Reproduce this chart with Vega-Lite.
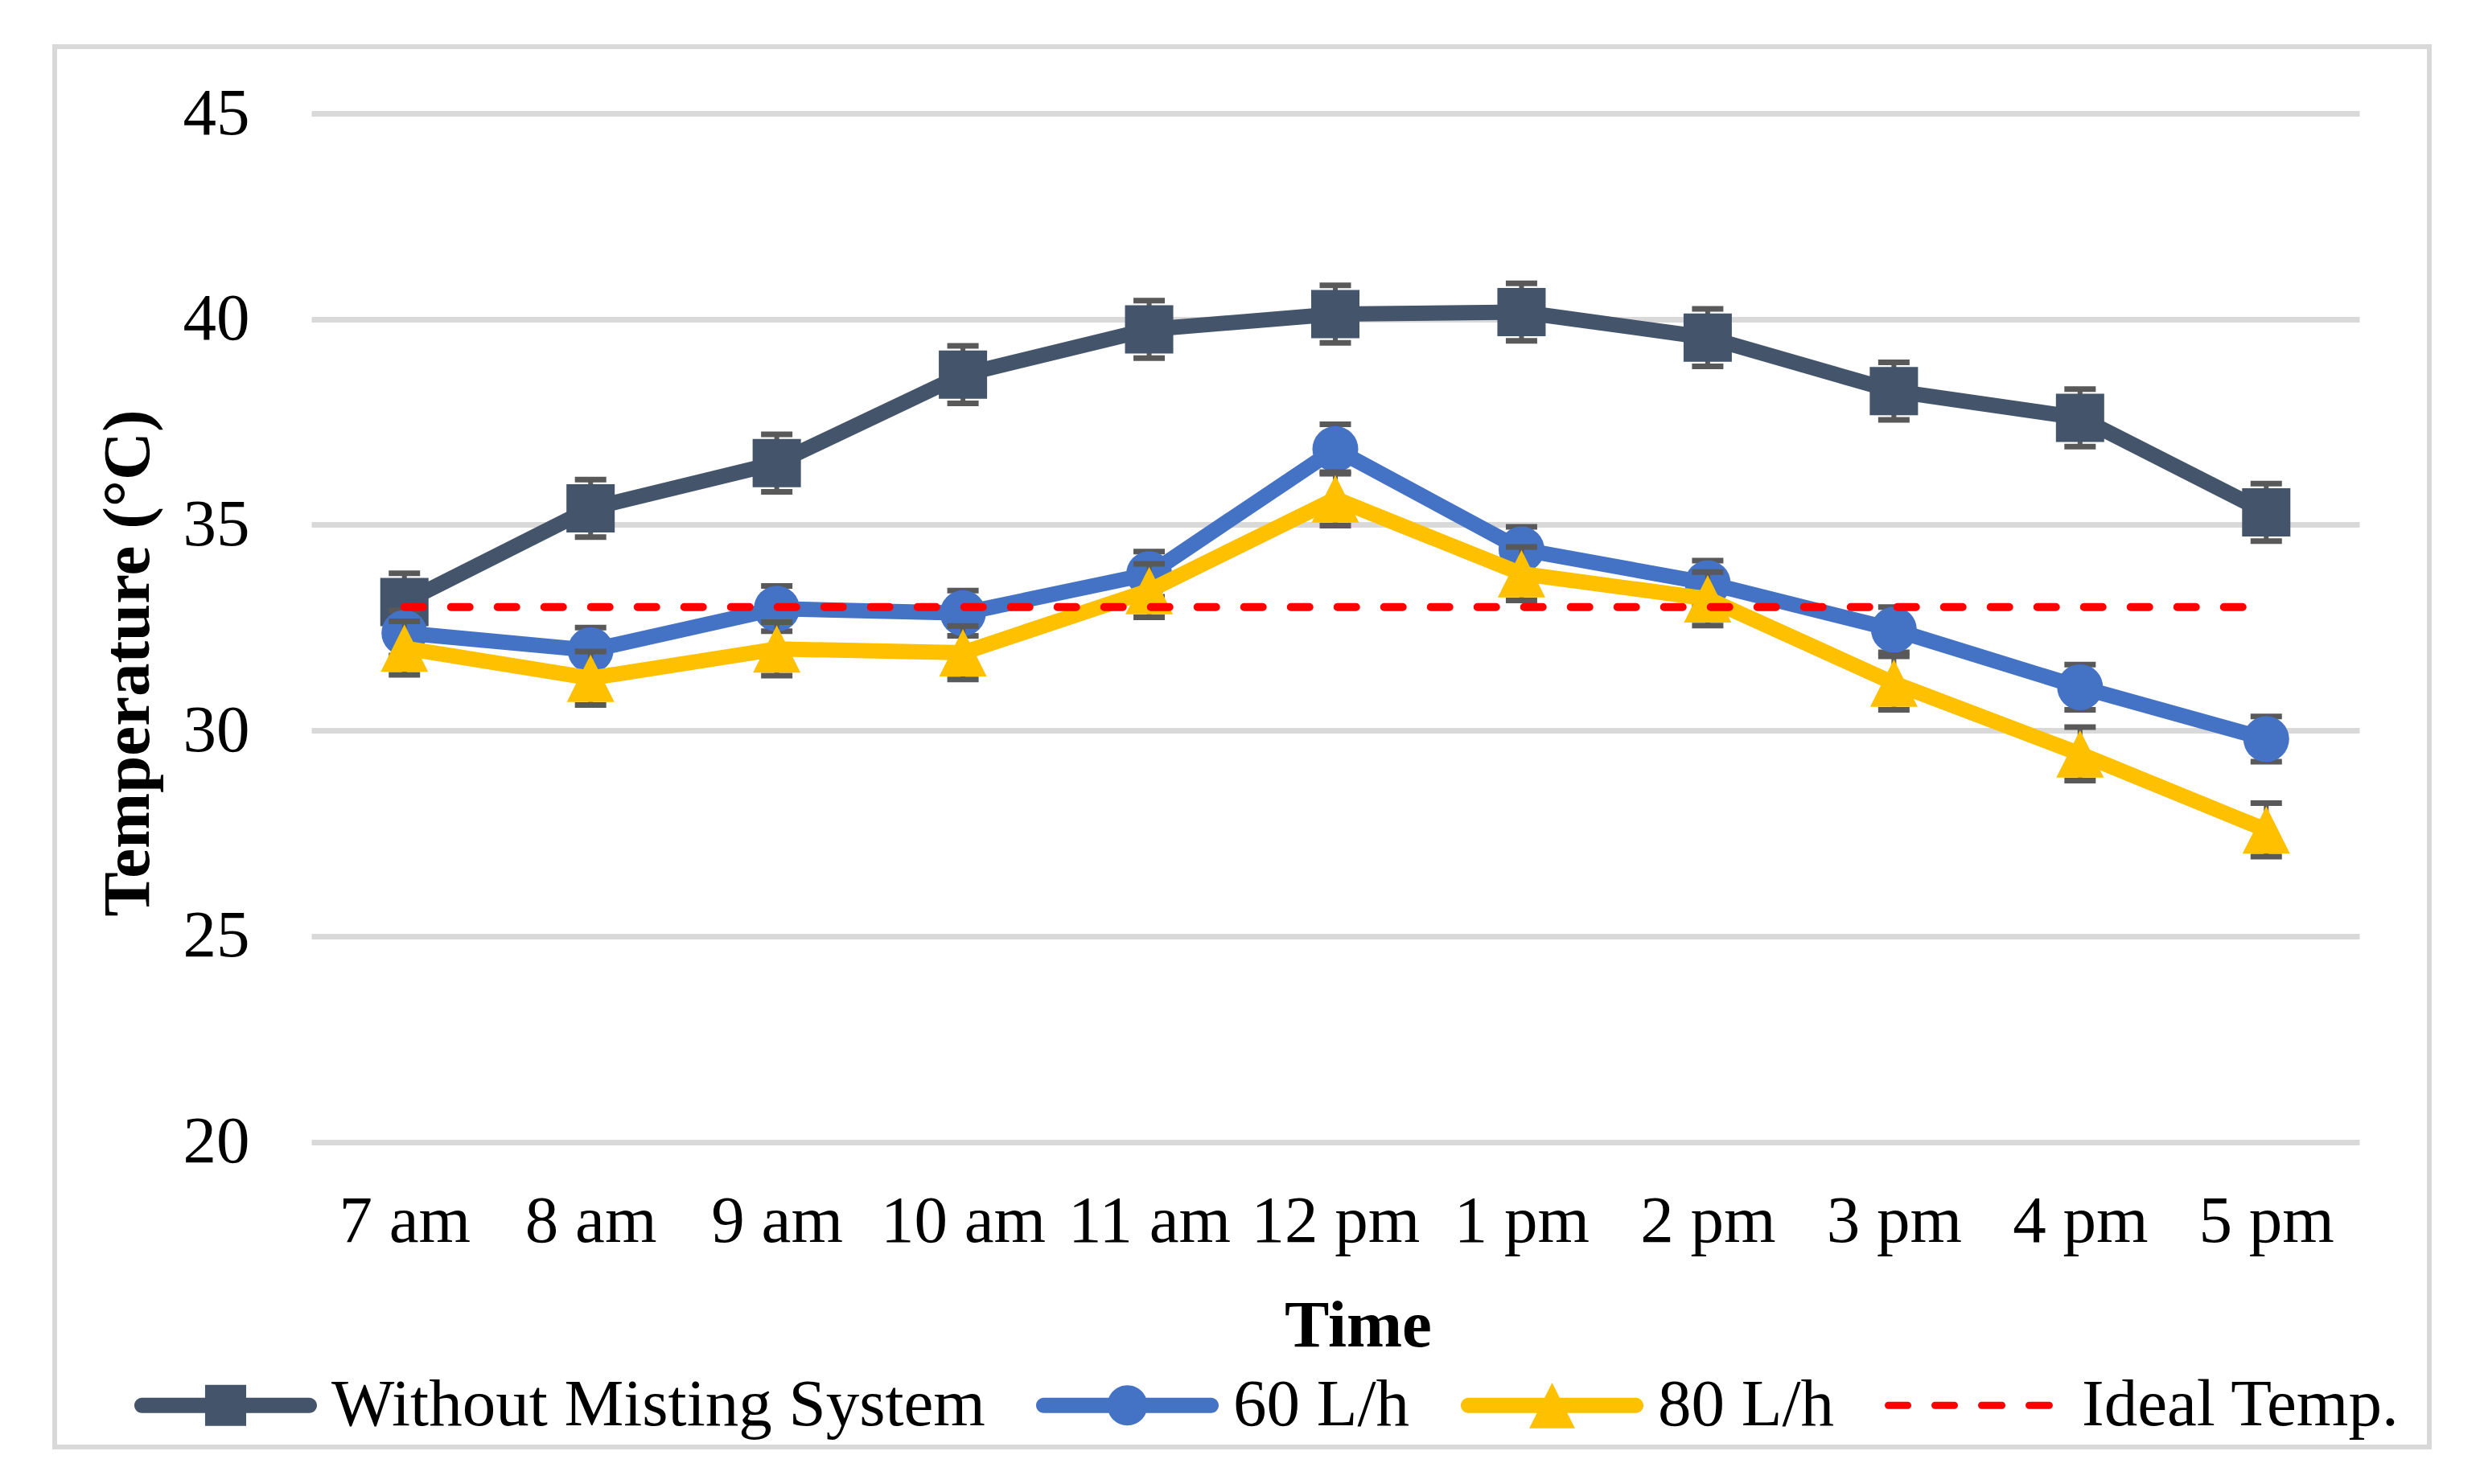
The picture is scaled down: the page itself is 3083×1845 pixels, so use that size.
{
  "$schema": "https://vega.github.io/schema/vega-lite/v6.json",
  "width": 2952,
  "height": 1741,
  "autosize": {"type": "none"},
  "padding": {"left": 68, "top": 58, "right": 63, "bottom": 46},
  "background": "white",
  "config": {
    "view": {"stroke": "#d9d9d9", "strokeWidth": 6, "fill": "white"},
    "font": "Liberation Serif",
    "axis": {
      "labelFont": "Liberation Serif",
      "labelFontSize": 83,
      "labelColor": "#000000",
      "labelLimit": 0,
      "titleFont": "Liberation Serif",
      "titleFontSize": 83,
      "titleFontWeight": "bold",
      "titleColor": "#000000"
    }
  },
  "data": {
    "values": [
      {"time": "7 am", "series": "Without Misting System", "value": 33.12, "lo": 32.42, "hi": 33.82},
      {"time": "8 am", "series": "Without Misting System", "value": 35.4, "lo": 34.7, "hi": 36.1},
      {"time": "9 am", "series": "Without Misting System", "value": 36.5, "lo": 35.8, "hi": 37.2},
      {"time": "10 am", "series": "Without Misting System", "value": 38.65, "lo": 37.95, "hi": 39.35},
      {"time": "11 am", "series": "Without Misting System", "value": 39.75, "lo": 39.05, "hi": 40.45},
      {"time": "12 pm", "series": "Without Misting System", "value": 40.12, "lo": 39.42, "hi": 40.82},
      {"time": "1 pm", "series": "Without Misting System", "value": 40.17, "lo": 39.47, "hi": 40.87},
      {"time": "2 pm", "series": "Without Misting System", "value": 39.55, "lo": 38.85, "hi": 40.25},
      {"time": "3 pm", "series": "Without Misting System", "value": 38.25, "lo": 37.55, "hi": 38.95},
      {"time": "4 pm", "series": "Without Misting System", "value": 37.6, "lo": 36.9, "hi": 38.3},
      {"time": "5 pm", "series": "Without Misting System", "value": 35.3, "lo": 34.6, "hi": 36.0},
      {"time": "7 am", "series": "60 L/h", "value": 32.37, "lo": 31.82, "hi": 32.92},
      {"time": "8 am", "series": "60 L/h", "value": 31.95, "lo": 31.4, "hi": 32.5},
      {"time": "9 am", "series": "60 L/h", "value": 32.96, "lo": 32.41, "hi": 33.51},
      {"time": "10 am", "series": "60 L/h", "value": 32.85, "lo": 32.3, "hi": 33.4},
      {"time": "11 am", "series": "60 L/h", "value": 33.8, "lo": 33.25, "hi": 34.35},
      {"time": "12 pm", "series": "60 L/h", "value": 36.84, "lo": 36.24, "hi": 37.44},
      {"time": "1 pm", "series": "60 L/h", "value": 34.4, "lo": 33.85, "hi": 34.95},
      {"time": "2 pm", "series": "60 L/h", "value": 33.58, "lo": 33.03, "hi": 34.13},
      {"time": "3 pm", "series": "60 L/h", "value": 32.45, "lo": 31.9, "hi": 33.0},
      {"time": "4 pm", "series": "60 L/h", "value": 31.05, "lo": 30.5, "hi": 31.6},
      {"time": "5 pm", "series": "60 L/h", "value": 29.79, "lo": 29.24, "hi": 30.34},
      {"time": "7 am", "series": "80 L/h", "value": 32.0, "lo": 31.35, "hi": 32.65},
      {"time": "8 am", "series": "80 L/h", "value": 31.27, "lo": 30.62, "hi": 31.92},
      {"time": "9 am", "series": "80 L/h", "value": 31.98, "lo": 31.33, "hi": 32.63},
      {"time": "10 am", "series": "80 L/h", "value": 31.89, "lo": 31.24, "hi": 32.54},
      {"time": "11 am", "series": "80 L/h", "value": 33.4, "lo": 32.75, "hi": 34.05},
      {"time": "12 pm", "series": "80 L/h", "value": 35.63, "lo": 34.98, "hi": 36.28},
      {"time": "1 pm", "series": "80 L/h", "value": 33.81, "lo": 33.16, "hi": 34.46},
      {"time": "2 pm", "series": "80 L/h", "value": 33.2, "lo": 32.55, "hi": 33.85},
      {"time": "3 pm", "series": "80 L/h", "value": 31.15, "lo": 30.5, "hi": 31.8},
      {"time": "4 pm", "series": "80 L/h", "value": 29.43, "lo": 28.78, "hi": 30.08},
      {"time": "5 pm", "series": "80 L/h", "value": 27.58, "lo": 26.93, "hi": 28.23},
      {"time": "7 am", "series": "Ideal Temp.", "value": 33},
      {"time": "8 am", "series": "Ideal Temp.", "value": 33},
      {"time": "9 am", "series": "Ideal Temp.", "value": 33},
      {"time": "10 am", "series": "Ideal Temp.", "value": 33},
      {"time": "11 am", "series": "Ideal Temp.", "value": 33},
      {"time": "12 pm", "series": "Ideal Temp.", "value": 33},
      {"time": "1 pm", "series": "Ideal Temp.", "value": 33},
      {"time": "2 pm", "series": "Ideal Temp.", "value": 33},
      {"time": "3 pm", "series": "Ideal Temp.", "value": 33},
      {"time": "4 pm", "series": "Ideal Temp.", "value": 33},
      {"time": "5 pm", "series": "Ideal Temp.", "value": 33}
    ]
  },
  "encoding": {
    "x": {
      "field": "time",
      "type": "ordinal",
      "title": "Time",
      "scale": {
        "type": "point",
        "domain": ["7 am", "8 am", "9 am", "10 am", "11 am", "12 pm", "1 pm", "2 pm", "3 pm", "4 pm", "5 pm"],
        "range": [319, 2865],
        "padding": 0.5
      },
      "axis": {
        "offset": -379.5,
        "domain": false,
        "ticks": false,
        "tickSize": 0,
        "grid": false,
        "labelAngle": 0,
        "labelPadding": 123.5,
        "labelBaseline": "alphabetic",
        "labelOverlap": false,
        "labelLimit": 0,
        "titleX": 1620,
        "titleY": 253.5,
        "titleAlign": "center",
        "titleBaseline": "alphabetic"
      }
    },
    "y": {
      "field": "value",
      "type": "quantitative",
      "title": "Temperature (°C)",
      "scale": {"domain": [20, 45], "range": [1361.5, 83], "nice": false, "zero": false},
      "axis": {
        "values": [20, 25, 30, 35, 40, 45],
        "offset": -319,
        "domain": false,
        "ticks": false,
        "tickSize": 0,
        "grid": true,
        "gridColor": "#d9d9d9",
        "gridWidth": 7,
        "labelPadding": 77,
        "labelBaseline": "middle",
        "labelAlign": "right",
        "titleAngle": -90,
        "titleX": -203,
        "titleY": 766,
        "titleAlign": "center",
        "titleBaseline": "alphabetic"
      }
    }
  },
  "layer": [
    {
      "transform": [{"filter": "datum.series === 'Without Misting System'"}],
      "layer": [
        {"mark": {"type": "line", "color": "#44546A", "strokeWidth": 19, "strokeCap": "round", "strokeJoin": "round"}},
        {
          "mark": {"type": "errorbar", "color": "#595959", "opacity": 1, "ticks": {"size": 39, "thickness": 7, "color": "#595959", "opacity": 1}, "rule": {"strokeWidth": 6, "color": "#595959", "opacity": 1}},
          "encoding": {"y": {"field": "lo", "type": "quantitative", "title": "Temperature (°C)"}, "y2": {"field": "hi"}}
        },
        {"mark": {"type": "point", "shape": "square", "filled": true, "opacity": 1, "color": "#44546A", "size": 3600}}
      ]
    },
    {
      "transform": [{"filter": "datum.series === '60 L/h'"}],
      "layer": [
        {"mark": {"type": "line", "color": "#4472C4", "strokeWidth": 19, "strokeCap": "round", "strokeJoin": "round"}},
        {
          "mark": {"type": "errorbar", "color": "#595959", "opacity": 1, "ticks": {"size": 39, "thickness": 7, "color": "#595959", "opacity": 1}, "rule": {"strokeWidth": 6, "color": "#595959", "opacity": 1}},
          "encoding": {"y": {"field": "lo", "type": "quantitative", "title": "Temperature (°C)"}, "y2": {"field": "hi"}}
        },
        {"mark": {"type": "point", "shape": "circle", "filled": true, "opacity": 1, "color": "#4472C4", "size": 3249}}
      ]
    },
    {
      "transform": [{"filter": "datum.series === '80 L/h'"}],
      "layer": [
        {"mark": {"type": "line", "color": "#FFC000", "strokeWidth": 19, "strokeCap": "round", "strokeJoin": "round"}},
        {
          "mark": {"type": "errorbar", "color": "#595959", "opacity": 1, "ticks": {"size": 39, "thickness": 7, "color": "#595959", "opacity": 1}, "rule": {"strokeWidth": 6, "color": "#595959", "opacity": 1}},
          "encoding": {"y": {"field": "lo", "type": "quantitative", "title": "Temperature (°C)"}, "y2": {"field": "hi"}}
        },
        {"mark": {"type": "point", "shape": "M0,-1L1,1L-1,1Z", "filled": true, "opacity": 1, "color": "#FFC000", "size": 3481}}
      ]
    },
    {
      "transform": [{"filter": "datum.series === 'Ideal Temp.'"}],
      "mark": {"type": "line", "color": "#FF0000", "strokeWidth": 10, "strokeDash": [23, 35], "strokeCap": "round"}
    },
    {
      "transform": [{"filter": "false"}],
      "mark": {"type": "point", "filled": true, "opacity": 1, "size": 51529},
      "encoding": {
        "color": {
          "field": "series",
          "type": "nominal",
          "scale": {
            "domain": ["Without Misting System", "60 L/h", "80 L/h", "Ideal Temp."],
            "range": ["#44546A", "#4472C4", "#FFC000", "#FF0000"]
          },
          "legend": {
            "orient": "none",
            "legendX": 99,
            "legendY": 1575.5,
            "direction": "horizontal",
            "title": null,
            "symbolSize": 51529,
            "symbolStrokeWidth": 0,
            "symbolOpacity": 1,
            "labelFont": "Liberation Serif",
            "labelFontSize": 83,
            "labelColor": "#000000",
            "labelOffset": 18,
            "labelLimit": 0,
            "columnPadding": 62,
            "padding": 0
          }
        },
        "shape": {
          "field": "series",
          "type": "nominal",
          "scale": {
            "domain": ["Without Misting System", "60 L/h", "80 L/h", "Ideal Temp."],
            "range": [
              "M-0.916,-0.084L0.916,-0.084A0.084,0.084 0 0 1 0.916,0.084L-0.916,0.084A0.084,0.084 0 0 1 -0.916,-0.084Z M-0.225,-0.225L0.225,-0.225L0.225,0.225L-0.225,0.225Z",
              "M-0.916,-0.084L0.916,-0.084A0.084,0.084 0 0 1 0.916,0.084L-0.916,0.084A0.084,0.084 0 0 1 -0.916,-0.084Z M-0.22,0A0.22,0.22 0 1 1 0.22,0A0.22,0.22 0 1 1 -0.22,0Z",
              "M-0.916,-0.084L0.916,-0.084A0.084,0.084 0 0 1 0.916,0.084L-0.916,0.084A0.084,0.084 0 0 1 -0.916,-0.084Z M0,-0.25L0.25,0.25L-0.25,0.25Z",
              "M-0.96,-0.04L-0.749,-0.04A0.04,0.04 0 0 1 -0.749,0.04L-0.96,0.04A0.04,0.04 0 0 1 -0.96,-0.04Z M-0.449,-0.04L-0.238,-0.04A0.04,0.04 0 0 1 -0.238,0.04L-0.449,0.04A0.04,0.04 0 0 1 -0.449,-0.04Z M0.062,-0.04L0.282,-0.04A0.04,0.04 0 0 1 0.282,0.04L0.062,0.04A0.04,0.04 0 0 1 0.062,-0.04Z M0.582,-0.04L0.801,-0.04A0.04,0.04 0 0 1 0.801,0.04L0.582,0.04A0.04,0.04 0 0 1 0.582,-0.04Z"
            ]
          }
        }
      }
    }
  ]
}
